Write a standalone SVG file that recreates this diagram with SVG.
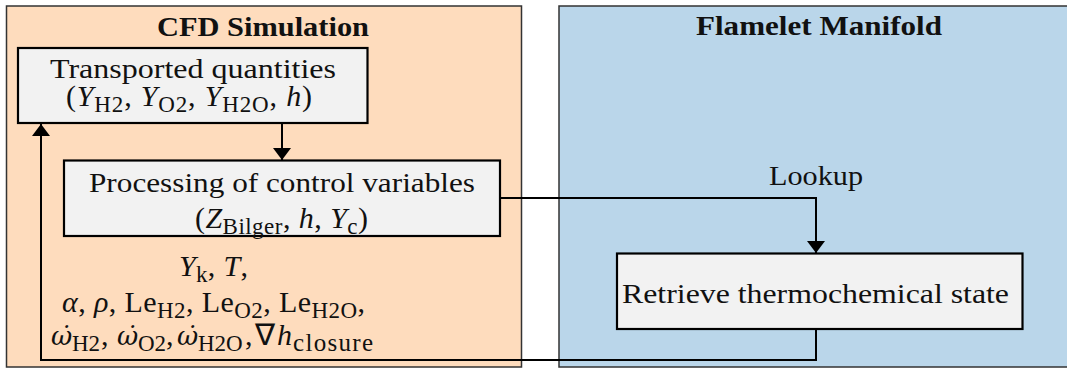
<svg xmlns="http://www.w3.org/2000/svg" width="1067" height="370" viewBox="0 0 1067 370">
<defs>
<style>
.cont{stroke:#333;stroke-width:1.5}
.node{fill:#f2f2f2;stroke:#000;stroke-width:2.2}
.t{font-family:"Liberation Serif",serif;font-size:28px;fill:#111}
.m{font-family:"Liberation Serif",serif;font-size:30px;fill:#111}
.title{font-family:"Liberation Serif",serif;font-size:28px;font-weight:bold;fill:#111}
.i{font-style:italic}
.s{font-size:23px;font-style:normal}
.w{font-family:"DejaVu Serif",serif;font-style:italic;font-size:26px}
.conn{fill:none;stroke:#000;stroke-width:2}
</style>
<marker id="ah" viewBox="0 0 12 18" refX="12" refY="9" markerWidth="12" markerHeight="18" markerUnits="userSpaceOnUse" orient="auto">
<path d="M0,0 L12,9 L0,18 z" fill="#000"/>
</marker>
</defs>
<rect width="1067" height="370" fill="#fff"/>
<g id="cfd">
<rect class="cont" x="6.5" y="6" width="515" height="361" fill="#fedcbd"/>
<text class="title" x="263" y="36" text-anchor="middle" textLength="212" lengthAdjust="spacingAndGlyphs">CFD Simulation</text>
</g>
<g id="manifold">
<rect class="cont" x="559" y="6" width="512" height="361" fill="#bad6ea"/>
<text class="title" x="819" y="35" text-anchor="middle" textLength="246" lengthAdjust="spacingAndGlyphs">Flamelet Manifold</text>
</g>
<g id="transported">
<rect class="node" x="18" y="48" width="349.5" height="75"/>
<text class="t" x="193" y="78" text-anchor="middle" textLength="286" lengthAdjust="spacingAndGlyphs">Transported quantities</text>
<text class="m" x="66" y="106" textLength="246" lengthAdjust="spacing">(<tspan class="i">Y</tspan><tspan class="s" dy="6">H2</tspan><tspan dy="-6">, </tspan><tspan class="i">Y</tspan><tspan class="s" dy="6">O2</tspan><tspan dy="-6">, </tspan><tspan class="i">Y</tspan><tspan class="s" dy="6">H2O</tspan><tspan dy="-6">, </tspan><tspan class="i">h</tspan>)</text>
</g>
<g id="processing">
<rect class="node" x="64" y="160.5" width="436" height="75.5"/>
<text class="t" x="282" y="192" text-anchor="middle" textLength="386" lengthAdjust="spacingAndGlyphs">Processing of control variables</text>
<text class="m" x="195" y="228" textLength="173" lengthAdjust="spacing">(<tspan class="i">Z</tspan><tspan class="s" dy="6">Bilger</tspan><tspan dy="-6">, </tspan><tspan class="i">h</tspan>, <tspan class="i">Y</tspan><tspan class="s i" dy="6">c</tspan><tspan dy="-6">)</tspan></text>
</g>
<g id="outputs">
<text class="m" x="179" y="276" textLength="69" lengthAdjust="spacing"><tspan class="i">Y</tspan><tspan class="s i" dy="6">k</tspan><tspan dy="-6">, </tspan><tspan class="i">T</tspan>,</text>
<text class="m" x="62" y="312" textLength="303" lengthAdjust="spacing"><tspan class="i">α</tspan>, <tspan class="i">ρ</tspan>, Le<tspan class="s" dy="6">H2</tspan><tspan dy="-6">, Le</tspan><tspan class="s" dy="6">O2</tspan><tspan dy="-6">, Le</tspan><tspan class="s" dy="6">H2O</tspan><tspan dy="-6">,</tspan></text>
<text class="m" y="345"><tspan class="w" x="51">ω̇</tspan><tspan class="s" x="72" dy="6">H2</tspan><tspan x="101" dy="-6">,</tspan><tspan class="w" x="117">ω̇</tspan><tspan class="s" x="138" dy="6">O2</tspan><tspan x="166" dy="-6">,</tspan><tspan class="w" x="177">ω̇</tspan><tspan class="s" x="198" dy="6">H2O</tspan><tspan x="245" dy="-6">,</tspan><tspan x="255">∇</tspan><tspan class="i" x="277">h</tspan></text>
<text class="m s" x="293" y="351" textLength="80" lengthAdjust="spacing" style="font-size:25px">closure</text>
</g>
<g id="retrieve">
<rect class="node" x="617" y="253.5" width="405.5" height="75.5"/>
<text class="t" x="815.5" y="303" text-anchor="middle" textLength="387" lengthAdjust="spacingAndGlyphs">Retrieve thermochemical state</text>
</g>
<g id="connectors">
<path class="conn" d="M282,123 V160" marker-end="url(#ah)"/>
<path class="conn" d="M500,198 H816 V253" marker-end="url(#ah)"/>
<path class="conn" d="M816,329 V360 H41 V124" marker-end="url(#ah)"/>
<text class="t" x="816" y="185" text-anchor="middle" textLength="94" lengthAdjust="spacingAndGlyphs">Lookup</text>
</g>
</svg>
